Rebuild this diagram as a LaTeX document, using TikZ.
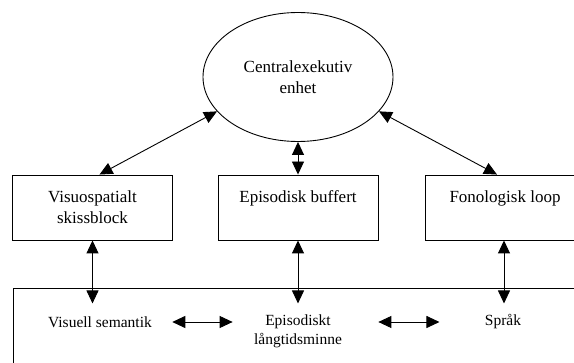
\documentclass[tikz,border=0pt]{standalone}
\usepackage{fontspec}
\setmainfont{Liberation Serif}
\usetikzlibrary{shapes.geometric,arrows.meta,calc}

\begin{document}
\begin{tikzpicture}[x=1pt,y=-1pt,line width=0.9pt,
  big/.style={font=\fontsize{17}{21}\selectfont,align=center},
  small/.style={font=\fontsize{15.5}{19}\selectfont,align=center,inner sep=0pt},
  boks/.style={big,draw,minimum width=160pt,minimum height=65pt,inner sep=0pt},
  tip/.style={{Triangle[length=13pt,width=12pt]}-{Triangle[length=13pt,width=12pt]}}]
\useasboundingbox (0,0) rectangle (574,363);
\clip (0,0) rectangle (574,363);

\node[big,draw,ellipse,minimum width=190pt,minimum height=129pt,inner sep=0pt] (ce) at (298,77) {Centralexekutiv\\enhet};

\node[boks] (vs) at (92.5,207.5) {Visuospatialt\\skissblock};
\node[boks] (eb) at (298,207.5) {Episodisk buffert\\\phantom{skissblock}};
\node[boks] (fl) at (505,207.5) {Fonologisk loop\\\phantom{skissblock}};

\draw[tip] (ce.203) -- ($(vs.north)+(7,0)$);
\draw[tip] (ce.south) -- (eb.north);
\draw[tip] (ce.337) -- ($(fl.north)+(-8,0)$);

% langtidsminnet
\draw (13,288) rectangle (600,400);
\node[small] (vsem) at (100,322) {Visuell semantik};
\node[small] (eltm) at (298,331) {Episodiskt\\långtidsminne};
\node[small] (sprak) at (503,322) {Språk};

\coordinate (vsend) at ($(vs.south)+(0,63)$);
\coordinate (ebend) at ($(eb.south)+(0,63)$);
\coordinate (flend) at ($(fl.south)+(-1,63)$);
\draw[tip] (vs.south) -- (vsend);
\draw[tip] (eb.south) -- (ebend);
\draw[tip] ($(fl.south)+(-1,0)$) -- (flend);

\draw[tip,shorten <=20pt,shorten >=21pt] (vsem.east) -- (vsem.east -| eltm.west);
\draw[tip,shorten <=36pt,shorten >=45pt] (eltm.east |- sprak) -- (sprak.west);
\end{tikzpicture}
\end{document}
